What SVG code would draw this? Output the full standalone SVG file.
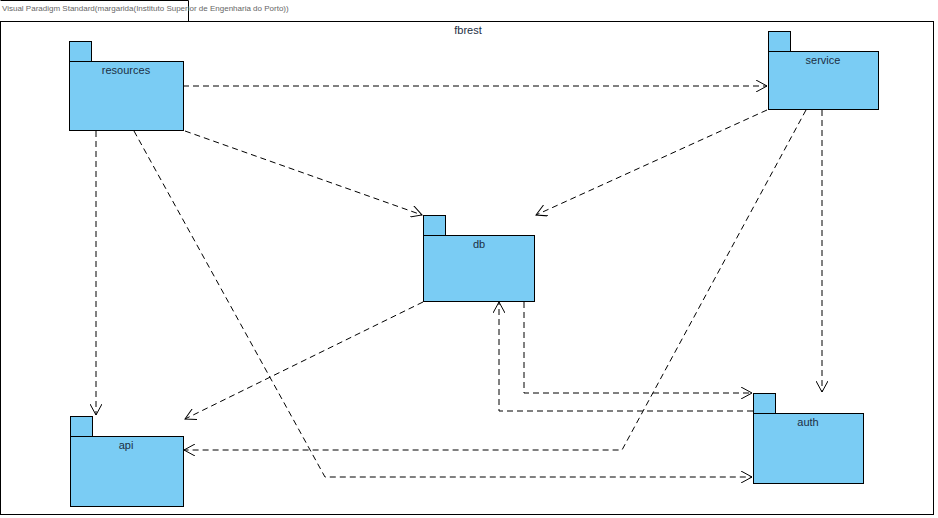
<svg xmlns="http://www.w3.org/2000/svg" width="938" height="518" viewBox="0 0 938 518">
<defs>
<style>
.pkg{fill:#7accf4;stroke:#000;stroke-width:1}
.lbl{font-family:"Liberation Sans",Arial,sans-serif;font-size:11px;fill:#1c2f44;text-anchor:middle}
.dep{fill:none;stroke:#000;stroke-width:1;stroke-dasharray:6,4}
.hd{font-family:"Liberation Sans",Arial,sans-serif;font-size:8px;fill:#666}
</style>
<marker id="open" viewBox="0 0 12 12" refX="11" refY="6" markerWidth="12" markerHeight="12" orient="auto" markerUnits="userSpaceOnUse">
<path d="M0,0 L11,6 L0,12" fill="none" stroke="#000" stroke-width="1"/>
</marker>
</defs>
<rect x="0" y="0" width="938" height="518" fill="#fff"/>
<g id="frame">
<rect x="0.5" y="21.5" width="933" height="493" fill="none" stroke="#000"/>
<path d="M0.5,0.5 H188.5 V21.5" fill="none" stroke="#000"/>
<text class="hd" x="2" y="11">Visual Paradigm Standard(margarida(Instituto Superior de Engenharia do Porto))</text>
<text class="lbl" x="468" y="34">fbrest</text>
</g>
<g id="connectors">
<line class="dep" x1="183" y1="86" x2="767" y2="86" marker-end="url(#open)"/>
<line class="dep" x1="185" y1="131" x2="422" y2="215" marker-end="url(#open)"/>
<line class="dep" x1="96" y1="131" x2="96" y2="415" marker-end="url(#open)"/>
<polyline class="dep" points="134,131 325,477 752,477" marker-end="url(#open)"/>
<line class="dep" x1="767" y1="110" x2="536" y2="215" marker-end="url(#open)"/>
<polyline class="dep" points="806,110 622,450 184,450" marker-end="url(#open)"/>
<line class="dep" x1="822" y1="110" x2="822" y2="392" marker-end="url(#open)"/>
<line class="dep" x1="423" y1="302" x2="185" y2="419" marker-end="url(#open)"/>
<polyline class="dep" points="524,302 524,393 752,393" marker-end="url(#open)"/>
<polyline class="dep" points="753,411 499,411 499,302" marker-end="url(#open)"/>
</g>
<g id="resources">
<rect class="pkg" x="69.5" y="41.5" width="22" height="20"/>
<rect class="pkg" x="69.5" y="61.5" width="114" height="69"/>
<text class="lbl" x="126" y="74">resources</text>
</g>
<g id="service">
<rect class="pkg" x="768.5" y="31.5" width="22" height="20"/>
<rect class="pkg" x="768.5" y="51.5" width="110" height="58"/>
<text class="lbl" x="823" y="64">service</text>
</g>
<g id="db">
<rect class="pkg" x="423.5" y="215.5" width="22" height="20"/>
<rect class="pkg" x="423.5" y="235.5" width="111" height="66"/>
<text class="lbl" x="479" y="248">db</text>
</g>
<g id="api">
<rect class="pkg" x="70.5" y="416.5" width="22" height="20"/>
<rect class="pkg" x="70.5" y="436.5" width="113" height="70"/>
<text class="lbl" x="126" y="449">api</text>
</g>
<g id="auth">
<rect class="pkg" x="753.5" y="393.5" width="22" height="20"/>
<rect class="pkg" x="753.5" y="413.5" width="110" height="70"/>
<text class="lbl" x="808" y="426">auth</text>
</g>
</svg>
